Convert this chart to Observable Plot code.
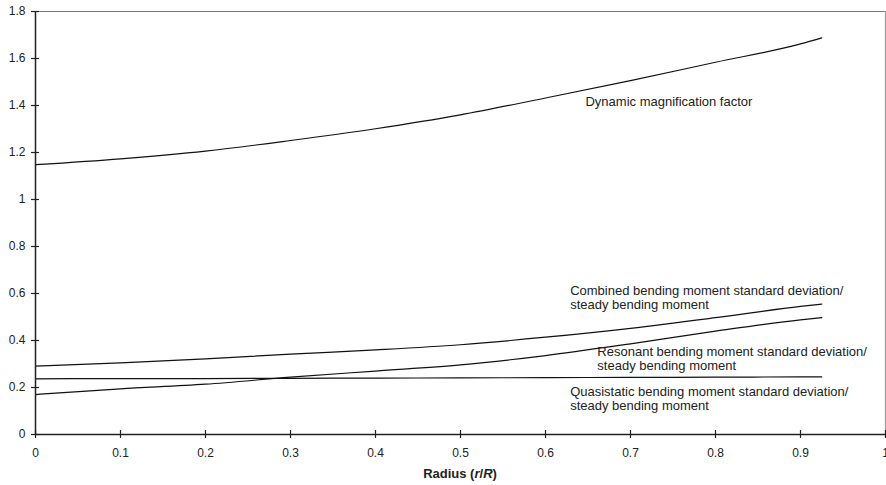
<!DOCTYPE html>
<html>
<head>
<meta charset="utf-8">
<script src="https://cdn.jsdelivr.net/npm/d3@7"></script>
<script src="https://cdn.jsdelivr.net/npm/@observablehq/plot@0.6"></script>
<style>
  html, body { margin: 0; padding: 0; background: #fff; }
  #chart svg { display: block; }
</style>
</head>
<body>
<div id="chart"></div>
<script>
// Radius positions (r/R)
const radius = [0, 0.1, 0.2, 0.3, 0.4, 0.5, 0.6, 0.7, 0.8, 0.9, 0.925];

// Series values
const dynamicMagnification = [1.148, 1.173, 1.206, 1.251, 1.301, 1.360, 1.432, 1.506, 1.584, 1.662, 1.688];
const combinedRatio        = [0.291, 0.305, 0.322, 0.342, 0.360, 0.382, 0.414, 0.452, 0.497, 0.545, 0.555];
const resonantRatio        = [0.170, 0.194, 0.214, 0.244, 0.270, 0.296, 0.336, 0.386, 0.440, 0.488, 0.497];
const quasistaticRatio     = [0.237, 0.238, 0.238, 0.239, 0.240, 0.241, 0.242, 0.243, 0.244, 0.245, 0.245];

const seriesNames = ["Dynamic magnification factor", "Combined", "Resonant", "Quasistatic"];
const seriesValues = [dynamicMagnification, combinedRatio, resonantRatio, quasistaticRatio];

// Tick values
const xTicks = [0, 0.1, 0.2, 0.3, 0.4, 0.5, 0.6, 0.7, 0.8, 0.9, 1];
const yTicks = [0, 0.2, 0.4, 0.6, 0.8, 1, 1.2, 1.4, 1.6, 1.8];

// Annotation texts and anchor points (data units)
const labelTexts = [
  "Dynamic magnification factor",
  "Combined bending moment standard deviation/\nsteady bending moment",
  "Resonant bending moment standard deviation/\nsteady bending moment",
  "Quasistatic bending moment standard deviation/\nsteady bending moment"
];
const labelX = [0.647, 0.629, 0.661, 0.629];
const labelY = [1.414, 0.582, 0.322, 0.152];

const rows = [];
seriesNames.forEach((name, i) => {
  radius.forEach((r, j) => rows.push({series: name, r, v: seriesValues[i][j]}));
});
const labels = labelTexts.map((t, i) => ({text: t, x: labelX[i], y: labelY[i]}));

const font = "'Liberation Sans', Arial, sans-serif";

const chart = Plot.plot({
  width: 886,
  height: 485,
  marginLeft: 35,
  marginRight: 1,
  marginTop: 11,
  marginBottom: 51,
  style: {fontFamily: font, fontSize: "12px", color: "#222", background: "#fff"},
  x: {domain: [0, 1], label: null},
  y: {domain: [0, 1.8], label: null},
  marks: [
    // top and right frame
    Plot.ruleY([1.8], {stroke: "#777", strokeWidth: 1.2}),
    Plot.ruleX([1], {stroke: "#999", strokeWidth: 1.2}),
    Plot.line(rows, {x: "r", y: "v", z: "series", stroke: "#111", strokeWidth: 1.2, curve: "monotone-x"}),
    Plot.text(labels, {x: "x", y: "y", text: "text", textAnchor: "start", lineAnchor: "middle",
      lineHeight: 1.02, fill: "#222", fontSize: 13}),
    Plot.axisY({ticks: yTicks, tickSize: 8, dx: 4, tickPadding: 6, tickFormat: d => String(d),
      stroke: "#222", strokeWidth: 1.2, fontSize: 12, label: null}),
    Plot.axisX({ticks: xTicks, tickSize: 8, dy: -4, tickPadding: 10, tickFormat: d => String(d),
      stroke: "#222", strokeWidth: 1.2, fontSize: 12, label: null}),
    Plot.ruleX([0], {stroke: "#222", strokeWidth: 1.5}),
    Plot.ruleY([0], {stroke: "#222", strokeWidth: 1.5})
  ]
});

document.getElementById("chart").appendChild(chart);

// Axis title with mixed bold/italic styling
const xs = chart.scale("x");
const svg = d3.select(chart);
const title = svg.append("text")
  .attr("x", xs.apply(0.5))
  .attr("y", 478)
  .attr("text-anchor", "middle")
  .attr("font-family", font)
  .attr("font-size", 13)
  .attr("font-weight", "bold")
  .attr("fill", "#222");
title.append("tspan").text("Radius (");
title.append("tspan").attr("font-style", "italic").text("r");
title.append("tspan").text("/");
title.append("tspan").attr("font-style", "italic").text("R");
title.append("tspan").text(")");
</script>
</body>
</html>
